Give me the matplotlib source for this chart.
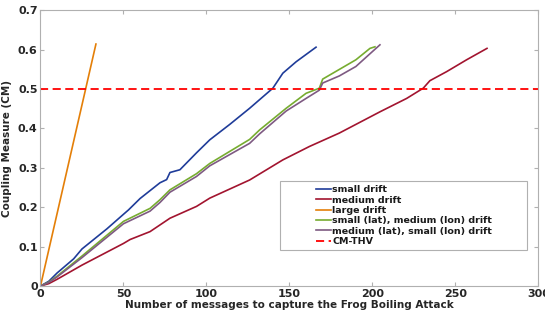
import matplotlib
matplotlib.use("Agg")
import matplotlib.pyplot as plt
from matplotlib.patches import Rectangle

# values
small_x = [0, 5, 10, 20, 25, 40, 50, 53, 60, 72, 76, 78, 84, 94, 102, 114, 126, 140, 146, 154, 166]
small_y = [0, 0.012, 0.033, 0.069, 0.094, 0.145, 0.182, 0.193, 0.222, 0.262, 0.27, 0.288,
           0.295, 0.338, 0.371, 0.41, 0.451, 0.502, 0.54, 0.569, 0.606]

medium_x = [0, 5, 10, 25, 50, 54, 66, 78, 94, 102, 126, 146, 162, 180, 204.5, 220.6, 230.6,
            234.6, 244.7, 256.7, 269]
medium_y = [0, 0.006, 0.017, 0.053, 0.108, 0.118, 0.138, 0.172, 0.202, 0.223, 0.269, 0.32,
            0.354, 0.388, 0.442, 0.476, 0.502, 0.521, 0.544, 0.574, 0.603]

large_x = [0, 33.4]
large_y = [0, 0.614]

sm_x = [0, 5, 10, 25, 50, 66, 72, 78, 94, 102, 126, 132, 148, 160, 168, 170, 190, 198.5, 201.5]
sm_y = [0, 0.01, 0.025, 0.076, 0.164, 0.197, 0.219, 0.244, 0.285, 0.311, 0.372, 0.396,
        0.451, 0.489, 0.502, 0.525, 0.574, 0.603, 0.607]

ms_x = [0, 5, 10, 25, 50, 66, 72, 78, 94, 102, 126, 132, 148, 160, 168, 170, 180, 190, 200, 204.5]
ms_y = [0, 0.009, 0.023, 0.072, 0.158, 0.19, 0.212, 0.238, 0.278, 0.305, 0.362, 0.386,
        0.444, 0.476, 0.497, 0.515, 0.533, 0.557, 0.595, 0.612]

threshold = 0.5

labels = ["small drift", "medium drift", "large drift",
          "small (lat), medium (lon) drift", "medium (lat), small (lon) drift", "CM-THV"]

plt.rcParams["font.family"] = "DejaVu Sans"
plt.rcParams["font.weight"] = "bold"

fig = plt.figure(figsize=(5.45, 3.17), dpi=100)
ax = fig.add_axes([0.0743, 0.0978, 0.9137, 0.8702])

ax.plot(small_x, small_y, color="#1f3c99", lw=1.2, label=labels[0])
ax.plot(medium_x, medium_y, color="#a2142f", lw=1.2, label=labels[1])
ax.plot(large_x, large_y, color="#e47f08", lw=1.2, label=labels[2])
ax.plot(sm_x, sm_y, color="#77ac30", lw=1.2, label=labels[3])
ax.plot(ms_x, ms_y, color="#7e5a82", lw=1.2, label=labels[4])
ax.axhline(threshold, color="#ff0000", lw=1.3, ls=(0, (4.5, 2.5)), label=labels[5])

ax.set_xlim(0, 300)
ax.set_ylim(0, 0.7)
ax.set_xticks([0, 50, 100, 150, 200, 250, 300])
ax.set_yticks([0, 0.1, 0.2, 0.3, 0.4, 0.5, 0.6, 0.7])
ax.set_yticklabels(["0", "0.1", "0.2", "0.3", "0.4", "0.5", "0.6", "0.7"])

for s in ax.spines.values():
    s.set_color("#b0b0b0")
    s.set_linewidth(0.8)
ax.tick_params(direction="in", top=True, right=True, length=3, color="#b0b0b0",
               labelsize=8, labelcolor="#262626", pad=2)
for t in ax.get_xticklabels() + ax.get_yticklabels():
    t.set_fontweight("bold")

ax.set_xlabel("Number of messages to capture the Frog Boiling Attack",
              fontsize=7.5, fontweight="bold", color="#262626", labelpad=1)
ax.set_ylabel("Coupling Measure (CM)", fontsize=7.5, fontweight="bold",
              color="#262626", labelpad=4)

# legend box drawn separately, entries sit in its right part
ax.add_patch(Rectangle((0.481, 0.130), 0.496, 0.250, transform=ax.transAxes,
                       facecolor="white", edgecolor="#b0b0b0", lw=0.8, zorder=3))
leg = ax.legend(loc="center left", bbox_to_anchor=(0.553, 0.255), frameon=False,
                fontsize=6.8, handlelength=1.6, handletextpad=0.15, labelspacing=0.15,
                borderpad=0, borderaxespad=0)
leg.set_zorder(4)
for t in leg.get_texts():
    t.set_fontweight("bold")
    t.set_color("#1a1a1a")

fig.savefig("out.png", dpi=100)
